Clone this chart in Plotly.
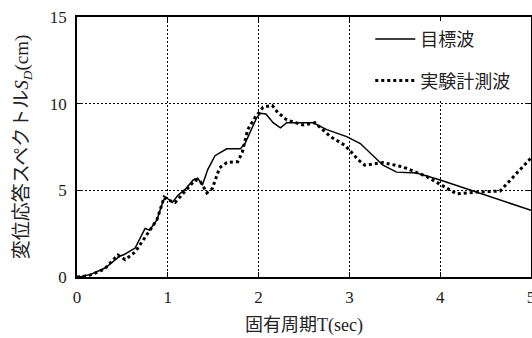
import plotly.graph_objects as go

# Target spectrum (目標波)
T_target = [0, 0.05, 0.15, 0.31, 0.47, 0.52, 0.64, 0.70, 0.75, 0.80, 0.88, 0.95, 0.98, 1.05, 1.11,
            1.20, 1.28, 1.33, 1.38, 1.44, 1.52, 1.65, 1.80, 1.85, 1.98, 2.02, 2.08, 2.16, 2.24,
            2.31, 2.46, 2.60, 2.75, 2.97, 3.12, 3.37, 3.52, 3.74, 4.00, 4.41, 5.00]
Sd_target = [0, 0.03, 0.15, 0.52, 1.20, 1.30, 1.67, 2.30, 2.80, 2.70, 3.30, 4.40, 4.60, 4.30, 4.70,
             5.10, 5.60, 5.70, 5.30, 6.20, 7.00, 7.40, 7.40, 7.70, 9.20, 9.45, 9.40, 8.90, 8.60,
             8.90, 8.90, 8.90, 8.50, 8.10, 7.70, 6.45, 6.05, 6.00, 5.60, 4.90, 3.85]

# Measured spectrum (実験計測波)
T_exp = [0, 0.05, 0.15, 0.30, 0.45, 0.53, 0.64, 0.71, 0.78, 0.88, 0.96, 1.00, 1.08, 1.20, 1.30,
         1.36, 1.43, 1.49, 1.57, 1.65, 1.77, 1.82, 1.88, 1.96, 2.05, 2.15, 2.21, 2.31, 2.49,
         2.62, 2.79, 2.95, 3.02, 3.10, 3.17, 3.37, 3.59, 3.85, 4.18, 4.41, 4.66, 4.84, 5.00]
Sd_exp = [0, 0.02, 0.12, 0.45, 1.27, 1.00, 1.44, 2.00, 2.50, 3.30, 4.60, 4.45, 4.30, 5.00, 5.60,
          5.50, 4.85, 5.10, 6.30, 6.60, 6.65, 7.20, 8.50, 9.20, 9.80, 9.90, 9.50, 9.06, 8.77,
          8.90, 8.10, 7.60, 7.20, 6.75, 6.45, 6.60, 6.35, 5.80, 4.80, 4.90, 4.96, 6.00, 6.87]

x_ticks = [0, 1, 2, 3, 4, 5]
y_ticks = [0, 5, 10, 15]

FONT = "Liberation Serif, 'Noto Sans CJK JP', serif"
TXT = "#222"

fig = go.Figure()
fig.add_trace(go.Scatter(x=T_target, y=Sd_target, mode="lines", name="目標波",
                         legendgroup="a",
                         line=dict(color="black", width=1.5)))
fig.add_trace(go.Scatter(x=T_exp, y=Sd_exp, mode="lines", name="実験計測波",
                         legendgroup="b",
                         line=dict(color="black", width=3, dash="dot")))

axis_common = dict(showline=True, linecolor="black", linewidth=1.5, mirror="ticks",
                   showgrid=True, gridcolor="black", gridwidth=1, griddash="2px,2px",
                   ticks="inside", ticklen=5, tickcolor="black", tickwidth=1.2,
                   zeroline=False, automargin=False, ticklabeloverflow="allow",
                   tickfont=dict(family=FONT, size=17, color=TXT))

fig.update_xaxes(range=[0, 5], tickvals=x_ticks, ticktext=[str(v) for v in x_ticks],
                 ticklabelstandoff=4,
                 title=dict(text="固有周期T(sec)", font=dict(family=FONT, size=18, color=TXT),
                            standoff=12),
                 **axis_common)
fig.update_yaxes(range=[0, 15], tickvals=y_ticks, ticktext=[str(v) for v in y_ticks],
                 ticklabelstandoff=5,
                 title=dict(text="変位応答スペクトル<i>S<sub>D</sub></i>(cm)",
                            font=dict(family=FONT, size=19, color=TXT), standoff=16),
                 **axis_common)

fig.update_layout(
    width=532, height=338,
    margin=dict(l=77, r=1, t=17, b=61),
    paper_bgcolor="white", plot_bgcolor="white",
    showlegend=True,
    legend=dict(x=0.646, y=0.985, xanchor="left", yanchor="top",
                bgcolor="white", borderwidth=0,
                font=dict(family=FONT, size=18, color=TXT),
                tracegroupgap=15, itemwidth=40),
)

fig.write_html("out.html", config={"displayModeBar": False},
               post_script="document.body.style.margin='0';document.body.style.padding='0';")
